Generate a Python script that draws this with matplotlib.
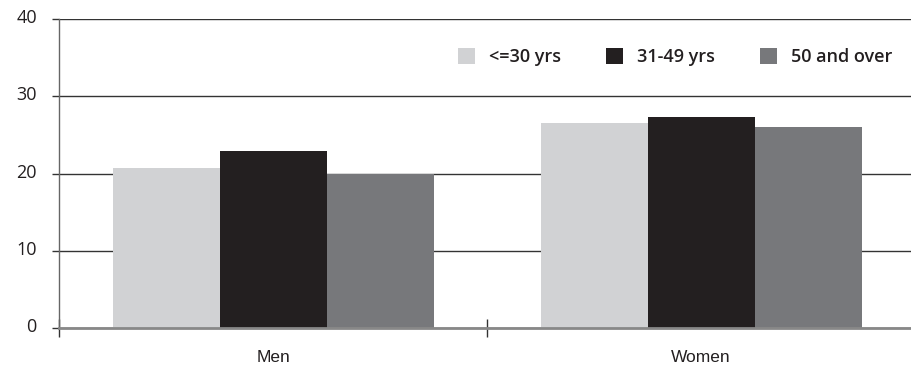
import matplotlib
matplotlib.use("Agg")
import matplotlib.pyplot as plt
import matplotlib.transforms as mtransforms
import numpy as np

# data
groups = ["Men", "Women"]
age_bands = ["<=30 yrs", "31-49 yrs", "50 and over"]
young = [20.7, 26.6]
middle = [22.9, 27.3]
older = [20.0, 26.0]
yticks = [0, 10, 20, 30, 40]

colors = ["#d1d2d4", "#231f20", "#77787b"]

fig = plt.figure(figsize=(9.11, 3.73), dpi=100)
ax = fig.add_axes([59 / 911, 45 / 373, 856 / 911, 309 / 373])

x = np.arange(len(groups))
w = 0.25
bars = []
for i, vals in enumerate([young, middle, older]):
    b = ax.bar(x + (i - 1) * w, vals, width=w, color=colors[i],
               label=age_bands[i], zorder=3)
    bars.append(b)

ax.set_xlim(-0.5, 1.5)
ax.set_ylim(0, 40)

# gridlines behind the bars
ax.set_yticks(yticks)
ax.yaxis.grid(True, color="#333333", linewidth=1.0, zorder=0)
ax.set_axisbelow(True)

for s in ["top", "right"]:
    ax.spines[s].set_visible(False)
ax.spines["left"].set_color("#666666")
ax.spines["left"].set_linewidth(1.0)
ax.spines["bottom"].set_color("#888888")
ax.spines["bottom"].set_linewidth(2.0)
ax.spines["bottom"].set_zorder(4)

ax.tick_params(axis="y", direction="out", length=5, width=1, color="#333333",
               pad=11, labelsize=13, labelcolor="#231f20")
for lab in ax.get_yticklabels():
    lab.set_fontfamily("Open Sans")
    lab.set_transform(lab.get_transform() +
                      mtransforms.ScaledTranslation(0, 3 / 100, fig.dpi_scale_trans))

# category labels, separators as minor ticks
ax.set_xticks(x)
ax.set_xticklabels(groups, fontfamily="Liberation Sans", fontsize=12.5, color="#231f20")
ax.tick_params(axis="x", which="major", length=0, pad=16)
ax.set_xticks([-0.5, 0.5], minor=True)
ax.tick_params(axis="x", which="minor", direction="inout", length=13, width=1,
               color="#333333")

leg = ax.legend(loc="center right", bbox_to_anchor=(0.973, 0.877), ncol=3,
                frameon=False, borderaxespad=0, borderpad=0,
                handlelength=0.95, handleheight=0.95, handletextpad=0.75,
                columnspacing=2.5,
                prop={"family": "Open Sans", "size": 13, "weight": "semibold"})
for t in leg.get_texts():
    t.set_color("#231f20")

fig.savefig("out.png", dpi=100)
